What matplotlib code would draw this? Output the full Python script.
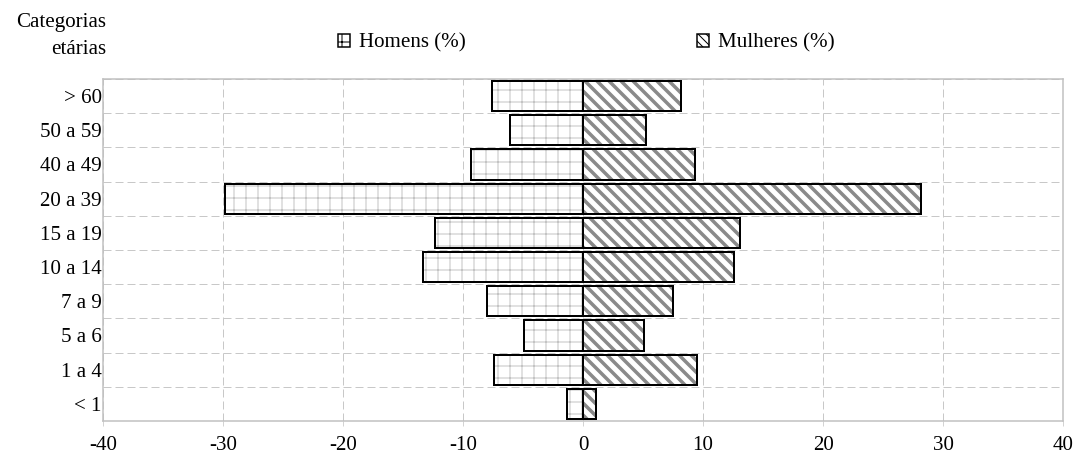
import matplotlib
matplotlib.use("Agg")
from matplotlib import pyplot as plt
from matplotlib.patches import Patch
import numpy as np

categorias = ["< 1", "1 a 4", "5 a 6", "7 a 9", "10 a 14", "15 a 19",
              "20 a 39", "40 a 49", "50 a 59", "> 60"]
homens = [-1.3, -7.4, -4.95, -8.0, -13.3, -12.3, -29.85, -9.35, -6.1, -7.55]
mulheres = [1.1, 9.5, 5.1, 7.5, 12.6, 13.1, 28.2, 9.33, 5.25, 8.2]
xticks = [-40, -30, -20, -10, 0, 10, 20, 30, 40]

plt.rcParams['font.family'] = ['Liberation Serif', 'DejaVu Serif']
fs = 21

dpi = 72
fig = plt.figure(figsize=(1073 / dpi, 454 / dpi), dpi=dpi)
ax = fig.add_axes([103 / 1073, 1 - 421 / 454, 960 / 1073, 342 / 454])

y = np.arange(len(categorias))
h = 0.88
grid_c = '#c8c8c8'

# grid first, below bars
ax.set_axisbelow(True)
ax.set_yticks(y + 0.5, minor=True)
ax.grid(axis='x', which='major', color=grid_c, linestyle=(0, (8, 4)), linewidth=1)
ax.grid(axis='y', which='minor', color=grid_c, linestyle=(0, (8, 4)), linewidth=1)

# hatch fills (hatch colour follows edgecolor), then black outlines
with plt.rc_context({'hatch.linewidth': 0.8}):
    ax.barh(y, homens, height=h, color='white', edgecolor='#b4b4b4',
            linewidth=0, hatch='+')
with plt.rc_context({'hatch.linewidth': 3.5}):
    ax.barh(y, mulheres, height=h, color='white', edgecolor='#8a8a8a',
            linewidth=0, hatch='\\\\')
ax.barh(y, homens, height=h, fill=False, edgecolor='black', linewidth=2)
ax.barh(y, mulheres, height=h, fill=False, edgecolor='black', linewidth=2)

ax.set_xlim(-40, 40)
ax.set_ylim(-0.5, len(categorias) - 0.5)
ax.set_xticks(xticks)
ax.set_xticklabels([str(v) for v in xticks], fontsize=fs)
ax.set_yticks(y)
ax.set_yticklabels(categorias, fontsize=fs)
ax.tick_params(axis='y', which='both', length=0, pad=1)
ax.tick_params(axis='x', length=5, color=grid_c, pad=10)

for s in ax.spines.values():
    s.set_color('#c0c0c0')
    s.set_linewidth(1.5)

fig.text(106 / 1073, 1 - 22 / 454, "Categorias", ha='right', va='center', fontsize=fs)
fig.text(106 / 1073, 1 - 50 / 454, "etárias", ha='right', va='center', fontsize=fs)

handles = [Patch(facecolor='white', edgecolor='black', hatch='+', linewidth=1.5),
           Patch(facecolor='white', edgecolor='black', hatch='\\\\\\', linewidth=1.5)]
fig.legend(handles, ["Homens (%)", "Mulheres (%)"], ncol=2, frameon=False,
           loc='center', bbox_to_anchor=(586 / 1073, 1 - 43 / 454),
           fontsize=fs, columnspacing=11, handlelength=0.6, handleheight=0.6,
           handletextpad=0.4)

fig.savefig("out.png", dpi=dpi)
